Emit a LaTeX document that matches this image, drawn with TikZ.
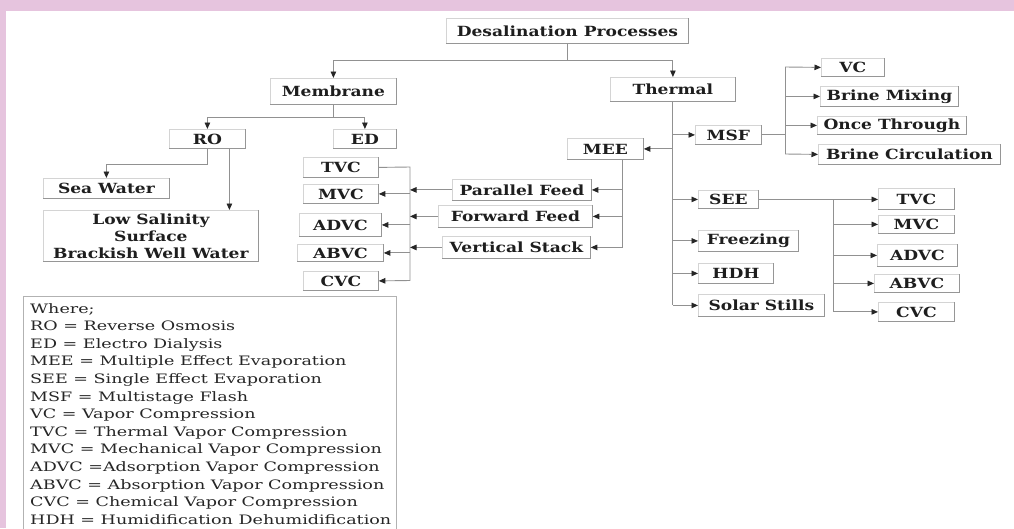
\documentclass[tikz,border=0pt]{standalone}
\usepackage{fontspec}
\setmainfont{DejaVu Serif}[FakeStretch=1.22]
\newfontfamily\legfont{DejaVu Serif}[FakeStretch=1.35]
\usetikzlibrary{arrows.meta,calc}
\definecolor{pinkbg}{RGB}{230,196,222}
\definecolor{boxline}{RGB}{212,212,212}
\definecolor{shadowline}{RGB}{150,150,150}
\definecolor{connline}{RGB}{145,145,145}
\definecolor{txt}{RGB}{30,30,30}
\newcommand\bx[6]{\node[lbl, anchor=north west, minimum width={(#4-#2)*1pt}, minimum height={(#5-#3)*1pt}] (#1) at (#2,#3) {#6};}
\begin{document}
\begin{tikzpicture}[x=1pt,y=-1pt,
  lbl/.style={draw=boxline, line width=0.8pt, fill=white, inner sep=0pt, text=txt, align=center,
    font=\bfseries\fontsize{14}{17}\selectfont},
  shad/.style={draw=shadowline, line width=0.9pt},
  conn/.style={draw=connline, line width=0.9pt},
  arr/.style={conn, -{Triangle[length=6.5pt,width=5.5pt,black!85]}},
  legline/.style={draw=black!30, line width=0.8pt}]
\useasboundingbox (0,0) rectangle (1014,528);
\fill[pinkbg] (0,0) rectangle (1014,528);
\fill[white] (6,11) rectangle (1014,528);

% boxes
\bx{title}{446}{18}{688}{43}{Desalination Processes}
\bx{mem}{270}{78}{396}{104}{Membrane}
\bx{the}{610}{77}{735}{101}{Thermal}
\bx{ro}{169}{129}{245}{148}{RO}
\bx{ed}{333}{129}{396}{148}{ED}
\bx{sea}{43}{178}{169}{198}{Sea Water}
\bx{low}{43}{210}{258}{261}{Low Salinity\\Surface\\Brackish Well Water}
\bx{ltvc}{303}{157}{378}{177}{TVC}
\bx{lmvc}{303}{184}{378}{203}{MVC}
\bx{ladvc}{299}{213}{381}{236}{ADVC}
\bx{labvc}{297}{244}{383}{261}{ABVC}
\bx{lcvc}{303}{271}{378}{290}{CVC}
\bx{pf}{452}{179}{591}{200}{Parallel Feed}
\bx{ff}{438}{205}{592}{227}{Forward Feed}
\bx{vs}{442}{236}{590}{258}{Vertical Stack}
\bx{mee}{567}{138}{643}{159}{MEE}
\bx{msf}{695}{125}{761}{144}{MSF}
\bx{vc}{821}{58}{884}{76}{VC}
\bx{bm}{820}{86}{958}{106}{Brine Mixing}
\bx{ot}{817}{116}{966}{134}{Once Through}
\bx{bc}{818}{144}{1000}{164}{Brine Circulation}
\bx{see}{698}{190}{758}{208}{SEE}
\bx{frz}{698}{230}{798}{251}{Freezing}
\bx{hdh}{698}{263}{773}{283}{HDH}
\bx{sol}{698}{294}{824}{316}{Solar Stills}
\bx{rtvc}{878}{188}{954}{209}{TVC}
\bx{rmvc}{878}{215}{954}{233}{MVC}
\bx{radvc}{877}{244}{957}{266}{ADVC}
\bx{rabvc}{874}{274}{959}{292}{ABVC}
\bx{rcvc}{878}{302}{954}{321}{CVC}

\foreach \n in {title,mem,the,ro,ed,sea,low,ltvc,lmvc,ladvc,labvc,lcvc,pf,ff,vs,mee,msf,vc,bm,ot,bc,see,frz,hdh,sol,rtvc,rmvc,radvc,rabvc,rcvc}
  \draw[shad] (\n.north east) -- (\n.south east) -- (\n.south west);

% title
\draw[conn] (title.south) -- ++(0,17) coordinate (tj);
\draw[arr] (tj) -| (mem.north);
\draw[arr] (tj) -| (the.north);
% membrane
\draw[conn] (mem.south) -- ++(0,13) coordinate (mj);
\draw[arr] (mj) -| (ro.north);
\draw[arr] (mj) -| (ed.north);
% RO
\draw[arr] (ro.south) -- ++(0,16) -| (sea.north);
\draw[arr] ([xshift=22pt]ro.south) -- ([xshift=22pt]ro.south |- low.north);
% left bracket
\coordinate (lbt) at (410,167);
\coordinate (lbb) at (410,280.5);
\draw[conn] (ltvc.east) -- (lbt) -- (lbb);
\draw[arr] (lbb) -- (lcvc.east);
\draw[arr] (lbt |- lmvc.east) -- (lmvc.east);
\draw[arr] (lbt |- ladvc.east) -- (ladvc.east);
\draw[arr] (lbt |- labvc.east) -- (labvc.east);
\draw[arr] (pf.west) -- (lbt |- pf.west);
\draw[arr] (ff.west) -- (lbt |- ff.west);
\draw[arr] (vs.west) -- (lbt |- vs.west);
% MEE
\coordinate (mv) at ([xshift=17pt]mee.south);
\draw[arr] (mv) |- (vs.east);
\draw[arr] (mv |- pf.east) -- (pf.east);
\draw[arr] (mv |- ff.east) -- (ff.east);
% thermal
\draw[conn] (the.south) -- (the.south |- sol.west) coordinate (tb);
\draw[arr] (tb) -- (sol.west);
\draw[arr] (the.south |- msf.west) -- (msf.west);
\draw[arr] (the.south |- mee.east) -- (mee.east);
\draw[arr] (the.south |- see.west) -- (see.west);
\draw[arr] (the.south |- frz.west) -- (frz.west);
\draw[arr] (the.south |- hdh.west) -- (hdh.west);
% MSF bracket
\coordinate (mt) at (785,67);
\coordinate (mb) at (785,154);
\draw[conn] (msf.east) -- (msf.east -| mt);
\draw[conn] (mt) -- (mb);
\draw[arr] (mt) -- (vc.west);
\draw[arr] (mt |- bm.west) -- (bm.west);
\draw[arr] (mt |- ot.west) -- (ot.west);
\draw[arr] (mb) -- (bc.west);
% SEE bracket
\path (see.east) ++(75,0) coordinate (sj);
\draw[arr] (see.east) -- (rtvc.west |- see.east);
\draw[conn] (sj) -- (sj |- rcvc.west);
\draw[arr] (sj |- rmvc.west) -- (rmvc.west);
\draw[arr] (sj |- radvc.west) -- (radvc.west);
\draw[arr] (sj |- rabvc.west) -- (rabvc.west);
\draw[arr] (sj |- rcvc.west) -- (rcvc.west);

% legend
\draw[legline] (23,545) -- (23,296) -- (396,296) -- (396,545);
\node[anchor=north west, inner sep=0pt, align=left, text=black!85,
  font=\legfont\fontsize{13}{17.6}\selectfont] (legend) at (30,303) {Where;\\
RO = Reverse Osmosis\\
ED = Electro Dialysis\\
MEE = Multiple Effect Evaporation\\
SEE = Single Effect Evaporation\\
MSF = Multistage Flash\\
VC = Vapor Compression\\
TVC = Thermal Vapor Compression\\
MVC = Mechanical Vapor Compression\\
ADVC =Adsorption Vapor Compression\\
ABVC = Absorption Vapor Compression\\
CVC = Chemical Vapor Compression\\
HDH = Humidification Dehumidification};
\end{tikzpicture}
\end{document}
